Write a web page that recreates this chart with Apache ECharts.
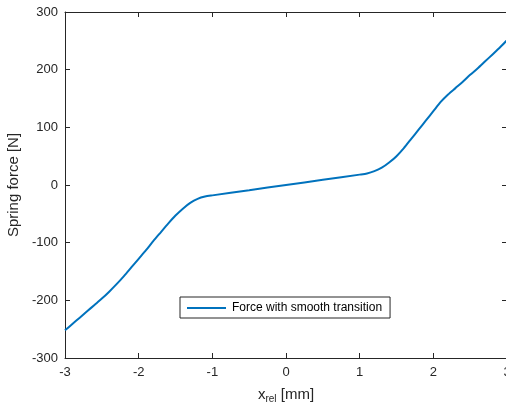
<!DOCTYPE html>
<html>
<head>
<meta charset="utf-8">
<style>
  html, body { margin: 0; padding: 0; background: #ffffff; }
  #chart { width: 506px; height: 407px; }
</style>
<script src="https://cdn.jsdelivr.net/npm/echarts@6/dist/echarts.min.js"></script>
</head>
<body>
<div id="chart"></div>
<script>
// Relative displacement of the spring ends [mm]
const xRel = [
  -3.0, -2.9, -2.8, -2.7, -2.6, -2.5, -2.4, -2.3, -2.2, -2.1, -2.0,
  -1.9, -1.8, -1.7, -1.6, -1.5, -1.4, -1.3, -1.2, -1.1, -1.0,
  -0.5, 0.0, 0.5,
  1.0, 1.1, 1.2, 1.3, 1.4, 1.5, 1.6, 1.7, 1.8, 1.9, 2.0,
  2.1, 2.2, 2.3, 2.4, 2.5, 2.6, 2.7, 2.8, 2.9, 3.0
];

// Spring force with a smooth transition between the two stiffness ranges [N]
const springForce = [
  -252, -241, -230, -219, -208, -197, -185, -172, -158, -143, -128,
  -113, -97, -82, -67, -53, -41, -31, -24, -20, -18,
  -9, 0, 9,
  18, 20, 24, 30, 39, 50, 64, 80, 96, 112, 128,
  144, 157, 168, 179, 191, 202, 214, 226, 238, 251
];

const xTicks = { min: -3, max: 3, step: 1 };
const yTicks = { min: -300, max: 300, step: 100 };

const seriesName = 'Force with smooth transition';

const axisColor = '#262626';
const fontFamily = '"Liberation Sans", Arial, Helvetica, sans-serif';

const chart = echarts.init(document.getElementById('chart'), null, { renderer: 'canvas' });

const boxAxis = {
  axisLine: { show: true, onZero: false, lineStyle: { color: axisColor, width: 1 } },
  axisTick: { show: true, inside: true, length: 5, lineStyle: { color: axisColor, width: 1 } },
  splitLine: { show: false }
};

const option = {
  backgroundColor: '#ffffff',
  animation: false,
  textStyle: { fontFamily: fontFamily },
  grid: { left: 65, right: -1, top: 12, bottom: 49, containLabel: false, outerBoundsMode: 'none' },
  legend: {
    data: [seriesName],
    left: 180,
    top: 297,
    padding: [5, 8, 4, 7],
    itemGap: 0,
    itemWidth: 39,
    itemHeight: 2,
    icon: 'rect',
    backgroundColor: '#ffffff',
    borderColor: axisColor,
    borderWidth: 1,
    borderRadius: 0,
    textStyle: { fontFamily: fontFamily, fontSize: 12, color: '#000000', padding: [0, 0, 0, 1] }
  },
  xAxis: [
    Object.assign({
      type: 'value',
      position: 'bottom',
      min: xTicks.min,
      max: xTicks.max,
      interval: xTicks.step,
      name: '{i|x}{s|rel}{i| [mm]}',
      nameLocation: 'middle',
      nameGap: 29,
      nameTextStyle: {
        color: axisColor,
        rich: {
          i: { fontFamily: fontFamily, fontSize: 15, color: axisColor, lineHeight: 17, verticalAlign: 'top' },
          s: { fontFamily: fontFamily, fontSize: 10, color: axisColor, lineHeight: 10, padding: [9, 0, 0, 0], verticalAlign: 'bottom' }
        }
      },
      axisLabel: { show: true, color: axisColor, fontSize: 13, fontFamily: fontFamily, margin: 8 }
    }, boxAxis),
    Object.assign({
      type: 'value',
      position: 'top',
      min: xTicks.min,
      max: xTicks.max,
      interval: xTicks.step,
      axisLabel: { show: false }
    }, boxAxis)
  ],
  yAxis: [
    Object.assign({
      type: 'value',
      position: 'left',
      min: yTicks.min,
      max: yTicks.max,
      interval: yTicks.step,
      name: 'Spring force [N]',
      nameLocation: 'middle',
      nameGap: 38,
      nameTextStyle: { color: axisColor, fontSize: 15, fontFamily: fontFamily },
      axisLabel: { show: true, color: axisColor, fontSize: 13, fontFamily: fontFamily, margin: 7 }
    }, boxAxis),
    Object.assign({
      type: 'value',
      position: 'right',
      min: yTicks.min,
      max: yTicks.max,
      interval: yTicks.step,
      axisLabel: { show: false }
    }, boxAxis)
  ],
  series: [
    {
      name: seriesName,
      type: 'line',
      xAxisIndex: 0,
      yAxisIndex: 0,
      data: xRel.map((x, i) => [x, springForce[i]]),
      showSymbol: false,
      symbol: 'none',
      smooth: 0.25,
      lineStyle: { color: '#0072BD', width: 2 },
      itemStyle: { color: '#0072BD' },
      clip: true
    }
  ]
};

chart.setOption(option);
</script>
</body>
</html>
